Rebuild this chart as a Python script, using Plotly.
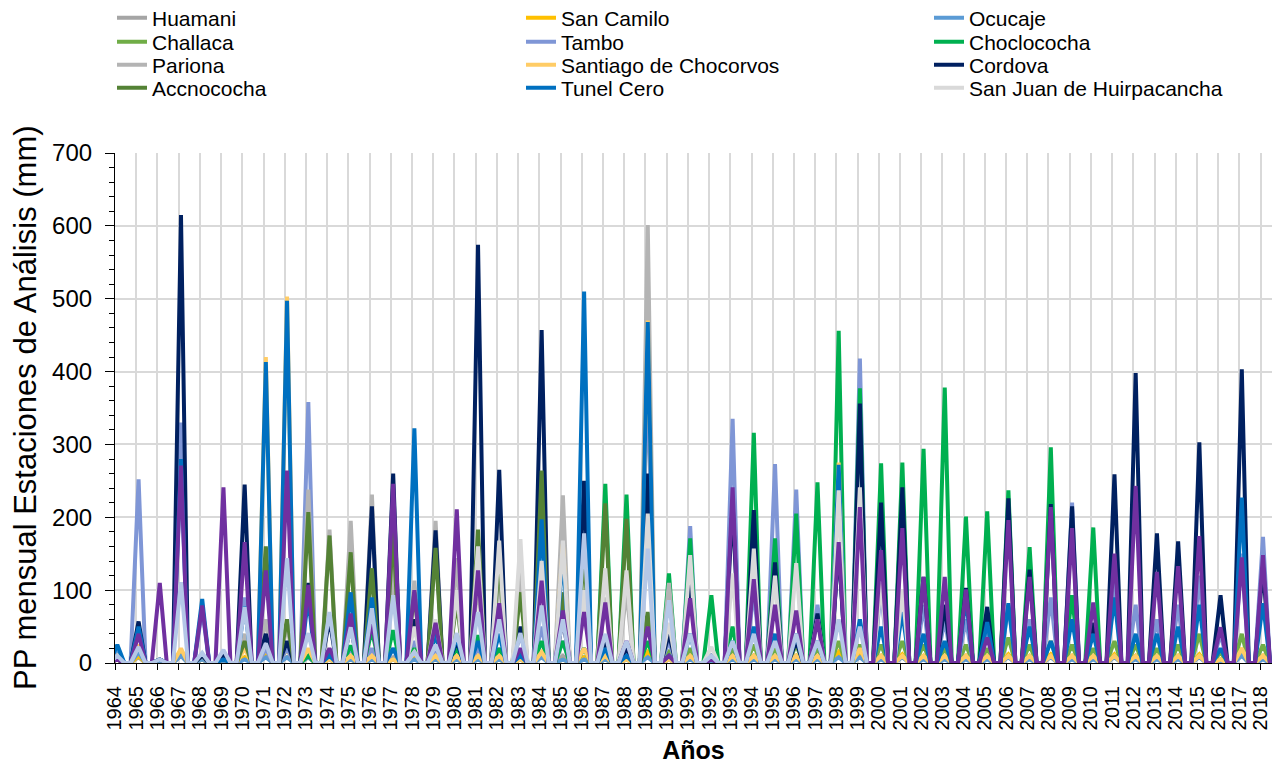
import plotly.graph_objects as go

YEARS = list(range(1964, 2019))
N = None

huamani = [5, 8, 5, 10, 5, 5, 8, 10, 8, 10,
           8, 8, 10, 8, 8, 10, 8, 10, 8, 8,
           10, 10, 8, 8, 8, 12, 8, 10, 5, 10,
           10, 8, 10, 8, 12, 10, 8, 10, 8, 8,
           8, 8, 10, 8, 10, 8, 8, 10, 10, 8,
           8, 10, 5, 12, 8]
san_camilo = [5, 10, 3, 15, 5, 3, 8, 10, 20, 8,
              5, 5, 8, 5, 8, 5, 5, 8, 5, 5,
              10, 5, 8, 5, 5, 15, 5, 8, 3, 8,
              10, 8, 10, 8, 15, 10, 10, 12, 10, 8,
              10, 8, 12, 10, 12, 10, 8, 12, 10, 8,
              10, 12, 5, 20, 10]
ocucaje = [20, 15, 3, 10, 5, 3, 5, 8, 8, 8,
           5, 5, 5, 5, 5, 5, 5, 5, 5, 5,
           8, 5, 5, 5, 5, 8, 5, 5, 3, 5,
           5, 5, 5, 5, 8, 8, 5, 8, 5, 5,
           5, 5, 8, 5, 8, 5, 5, 8, 5, 5,
           5, 8, 3, 10, 5]
challaca = [N, N, N, N, N, N, N, N, N, N,
            N, N, N, N, N, N, N, N, N, N,
            N, N, N, N, N, N, 15, 20, 10, 20,
            25, 20, 25, 20, 30, 25, 25, 30, 25, 20,
            25, 20, 35, 25, 30, 25, 20, 30, 25, 20,
            25, 40, 15, 40, 25]
tambo = [10, 252, 5, 330, 73, 5, 90, 20, 20, 358,
         10, 20, 20, 20, 30, 20, 20, 20, 20, 40,
         50, 30, 20, 20, 10, 395, 30, 188, 10, 335,
         100, 273, 238, 80, 160, 418, 100, 244, 80, 60,
         60, 40, 80, 60, 90, 220, 50, 120, 80, 60,
         80, 120, 40, 150, 173]
choclococha = [N, N, N, N, N, N, N, N, N, 10,
               15, 24, 45, 45, 20, 40, 20, 38, 20, 15,
               30, 30, 20, 246, 231, 30, 123, 171, 93, 50,
               316, 171, 205, 248, 456, 377, 274, 275, 294, 378,
               201, 208, 237, 159, 296, 93, 186, N, N, N,
               N, N, N, N, N]
pariona = [N, N, N, N, N, N, 40, 60, 50, 238,
           183, 195, 231, 130, 113, 195, 144, 110, 120, 125,
           230, 230, 100, 90, 100, 601, 110, N, N, N,
           N, N, N, N, N, N, N, N, N, N,
           N, N, N, N, N, N, N, N, N, N,
           N, N, N, N, N]
santiago = [10, 25, 5, 20, 10, 5, 20, 420, 503, 20,
            5, 10, 10, 5, 15, 10, 10, 10, 10, 5,
            15, 163, 20, 10, 5, 470, 5, 10, 5, 10,
            10, 10, 10, 10, 275, 20, 10, 10, 10, 10,
            10, 10, 10, 10, 10, 10, 10, 10, 10, 10,
            10, 10, 5, 20, 10]
cordova = [5, 57, 5, 615, 10, 10, 245, 40, 30, 110,
           60, 50, 215, 260, 60, 182, 30, 574, 265, 50,
           457, 60, 250, 30, 20, 260, 40, 116, 10, 220,
           210, 138, 30, 68, 160, 356, 220, 241, 118, 80,
           103, 77, 226, 128, 218, 215, 55, 259, 398, 178,
           167, 303, 93, 403, 133]
accnococha = [N, N, N, N, N, N, 30, 160, 60, 207,
              175, 152, 130, 180, 97, 158, 85, 183, 145, 97,
              264, 97, 150, 219, 198, 70, N, N, N, N,
              N, N, N, N, N, N, N, N, N, N,
              N, N, N, N, N, N, N, N, N, N,
              N, N, N, N, N]
tunel_cero = [25, 50, 5, 280, 88, 5, 78, 413, 497, 90,
              10, 97, 90, 20, 322, 40, 35, 30, 40, 10,
              197, 150, 510, 20, 10, 468, 10, 40, 5, 30,
              50, 40, 40, 30, 272, 60, 50, 70, 40, 30,
              90, 56, 82, 50, 30, 60, 40, 90, 40, 40,
              50, 80, 20, 227, 82]
san_juan = [N, N, N, N, N, N, N, N, N, N,
            N, N, N, N, 50, 60, 100, 160, 168, 170,
            140, 168, 100, 130, 127, 205, 55, 148, 22, 123,
            157, 120, 137, 60, 237, 241, 110, 100, N, N,
            N, N, N, N, N, N, N, N, N, N,
            N, N, N, N, N]
serie_morada = [5, 40, 110, 271, 79, 241, 166, 127, 264, 107,
                20, 68, 56, 246, 100, 55, 211, 127, 82, 20,
                113, 72, 70, 83, 30, 50, 10, 89, 5, 241,
                115, 80, 72, 60, 166, 214, 155, 185, 118, 118,
                101, 35, 196, 118, 214, 185, 83, 150, 243, 125,
                133, 174, 49, 145, 148]
serie_celeste = [10, 22, 5, 111, 14, 18, 77, 27, 144, 41,
                 70, 49, 75, 93, 15, 25, 41, 70, 60, 41,
                 79, 60, 178, 40, 30, 157, 86, 40, 10, 30,
                 40, 30, 40, 30, 60, 50, N, N, N, N,
                 N, N, N, N, N, N, N, N, N, N,
                 N, N, N, N, N]

SERIES = [
    ("Huamani", huamani, "#A5A5A5", True),
    ("San Camilo", san_camilo, "#FFC000", True),
    ("Ocucaje", ocucaje, "#5B9BD5", True),
    ("Challaca", challaca, "#70AD47", True),
    ("Tambo", tambo, "#7F96D6", True),
    ("Choclococha", choclococha, "#00B050", True),
    ("Pariona", pariona, "#B4B4B4", True),
    ("Santiago de Chocorvos", santiago, "#FFCC66", True),
    ("Cordova", cordova, "#002060", True),
    ("Accnococha", accnococha, "#548235", True),
    ("Tunel Cero", tunel_cero, "#0070C0", True),
    ("San Juan de Huirpacancha", san_juan, "#D9D9D9", True),
    ("Serie 13", serie_morada, "#7030A0", False),
    ("Serie 14", serie_celeste, "#B4C7E7", False),
]


def build(vals):
    xs, ys = [], []
    for yr, v in zip(YEARS, vals):
        if v is None:
            xs.append(f"{yr}-02-10")
            ys.append(None)
            continue
        xs += [f"{yr - 1}-09-25", f"{yr}-02-10", f"{yr}-06-10"]
        ys += [0, v, 0]
    return xs, ys


LEG_X = [112, 521, 929]
LEG_Y = [18, 42, 65, 88]

fig = go.Figure()
legends = {}
k = 0
for name, vals, color, show in SERIES:
    xs, ys = build(vals)
    kw = {}
    if show:
        lname = "legend" if k == 0 else f"legend{k + 1}"
        kw["legend"] = lname
        legends[lname] = dict(
            xref="container", yref="container",
            x=LEG_X[k % 3] / 1286, y=1 - LEG_Y[k // 3] / 764,
            xanchor="left", yanchor="middle",
            font=dict(size=21), bgcolor="rgba(0,0,0,0)",
            itemwidth=30,
        )
        k += 1
    fig.add_trace(go.Scatter(
        x=xs, y=ys, name=name, mode="lines",
        line=dict(color=color, width=4),
        showlegend=show, connectgaps=False, **kw,
    ))

fig.add_annotation(
    text="PP mensual Estaciones de Análisis (mm)", textangle=-90,
    xref="paper", yref="paper", x=(25 - 115) / 1157, y=0.5,
    xanchor="center", yanchor="middle", showarrow=False,
    font=dict(size=31, color="black"),
)

fig.update_layout(
    width=1286, height=764,
    margin=dict(l=115, r=14, t=153, b=101, autoexpand=False),
    paper_bgcolor="white", plot_bgcolor="white",
    font=dict(family="Liberation Sans, Arial, sans-serif", color="black"),
    xaxis=dict(
        type="date", range=["1964-01-01", "2018-07-15"],
        tick0="1964-01-01", dtick="M12", tickformat="%Y",
        tickangle=-90, tickfont=dict(size=20), ticklabelstandoff=8,
        showgrid=True, gridcolor="#D9D9D9", gridwidth=1.5,
        showline=True, linecolor="black", linewidth=1.2,
        ticks="outside", ticklen=6, tickcolor="black",
        title=dict(text="<b>Años</b>", font=dict(size=25), standoff=15),
    ),
    yaxis=dict(
        range=[0, 700], dtick=100, tickfont=dict(size=24), ticklabelstandoff=8,
        showgrid=True, gridcolor="#D9D9D9", gridwidth=1.5,
        showline=True, linecolor="black", linewidth=1.2,
        ticks="outside", ticklen=9, tickcolor="black",
        minor=dict(dtick=20, ticks="outside", ticklen=5, tickcolor="black", showgrid=False),
        zeroline=False,
    ),
    **legends,
)

fig.write_html("out.html")
